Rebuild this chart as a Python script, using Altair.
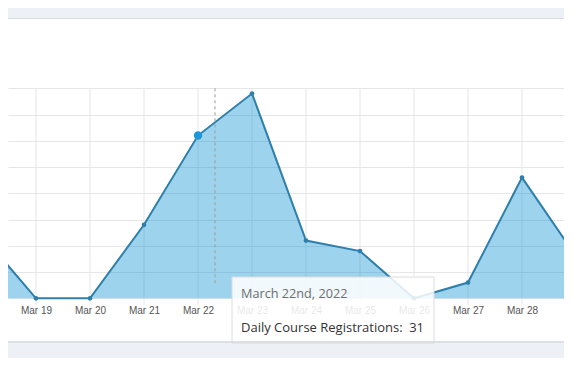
import altair as alt
import pandas as pd

# ---- data ----
dates = ["2022-03-18", "2022-03-19", "2022-03-20", "2022-03-21", "2022-03-22", "2022-03-23",
         "2022-03-24", "2022-03-25", "2022-03-26", "2022-03-27", "2022-03-28", "2022-03-29"]
registrations = [12, 0, 0, 14, 31, 39, 11, 9, 0, 3, 23, 8]
y_grid_values = [0, 5, 10, 15, 20, 25, 30, 35, 40]
hover_date = "2022-03-22"
crosshair_time = "2022-03-22T07:33:00"
tooltip_title = "March 22nd, 2022"
tooltip_label = "Daily Course Registrations:"

df = pd.DataFrame({"date": [d + "T00:00:00" for d in dates], "value": registrations})
hi = dates.index(hover_date)
df_hi = pd.DataFrame({"date": [dates[hi] + "T00:00:00"], "value": [registrations[hi]]})
df_cross = pd.DataFrame({"date": [crosshair_time]})
df_tip = pd.DataFrame({"title": [tooltip_title], "label": [tooltip_label],
                       "val": [str(registrations[hi])]})

def dt(s):
    y, m, d = s.split("-")
    return alt.DateTime(year=int(y), month=int(m), date=int(d))

x_scale = alt.Scale(domain=[alt.DateTime(year=2022, month=3, date=18, hours=11, minutes=33, seconds=20),
                            alt.DateTime(year=2022, month=3, date=28, hours=18, minutes=40, seconds=0)])
y_scale = alt.Scale(domain=[-8.32, 53.2], nice=False, zero=False)

x_axis = alt.Axis(values=[dt(d) for d in dates], format="%b %d", orient="bottom", offset=-43.7,
                  domain=False, ticks=False, grid=False, title=None, labelFlush=False,
                  labelFont="Liberation Sans", labelFontSize=10, labelColor="#555555",
                  labelPadding=7, zindex=0)
y_axis = alt.Axis(values=y_grid_values, grid=True, labels=False, ticks=False, domain=False,
                  title=None, gridColor="#e6e6e6", gridWidth=1, zindex=0)

X = alt.X("date:T", scale=x_scale, axis=x_axis)
Y = alt.Y("value:Q", scale=y_scale, axis=y_axis)

vgrid = alt.Chart(df).mark_rule(color="#e6e6e6", strokeWidth=1).encode(
    x=X, y=alt.datum(40), y2=alt.datum(-1.2))

area = alt.Chart(df).mark_area(color="#008cd2", opacity=0.38, clip=True).encode(
    x=X, y=Y, y2=alt.datum(0))

line = alt.Chart(df).mark_line(color="#2f7fab", strokeWidth=2, clip=True).encode(x=X, y=Y)

pts = alt.Chart(df).mark_circle(color="#2f7fab", size=22, opacity=1, clip=True).encode(x=X, y=Y)

hpt = alt.Chart(df_hi).mark_circle(color="#2196d6", size=70, opacity=1).encode(x=X, y=Y)

cross = alt.Chart(df_cross).mark_rule(color="#9a9a9a", strokeWidth=1, strokeDash=[3, 3]).encode(
    x=alt.X("date:T"), y=alt.datum(40), y2=alt.datum(2.5))

tip_box = alt.Chart(df_tip).mark_rect(fill="white", fillOpacity=0.86, stroke="#dcdcdc",
                                      strokeWidth=1).encode(
    x=alt.value(224), x2=alt.value(426), y=alt.value(258), y2=alt.value(324))

tip_title = alt.Chart(df_tip).mark_text(align="left", baseline="alphabetic", font="Open Sans",
                                        fontSize=12.7, color="#6e6e6e").encode(
    x=alt.value(233), y=alt.value(279), text="title:N")
tip_label = alt.Chart(df_tip).mark_text(align="left", baseline="alphabetic", font="Open Sans",
                                        fontSize=13, color="#333333").encode(
    x=alt.value(233), y=alt.value(313), text="label:N")
tip_val = alt.Chart(df_tip).mark_text(align="right", baseline="alphabetic", font="Open Sans",
                                      fontSize=13, color="#333333").encode(
    x=alt.value(416), y=alt.value(313), text="val:N")

top_border = alt.Chart(df_tip).mark_rule(color="#d6dbe1", strokeWidth=1).encode(
    x=alt.value(0), x2=alt.value(556), y=alt.value(-0.5))
bottom_border = alt.Chart(df_tip).mark_rule(color="#d3d8de", strokeWidth=1.5).encode(
    x=alt.value(0), x2=alt.value(556), y=alt.value(323))

chart = alt.layer(vgrid, area, line, pts, hpt, cross, tip_box, tip_title, tip_label, tip_val,
                  top_border, bottom_border).properties(
    width=556, height=323,
    autosize=alt.AutoSizeParams(type="none"),
    padding={"top": 11, "left": 0, "right": 0, "bottom": 16},
    background="#edf1f5",
).configure_view(fill="white", strokeWidth=0)

chart.save("out.html", embed_options={"renderer": "svg", "actions": False})
